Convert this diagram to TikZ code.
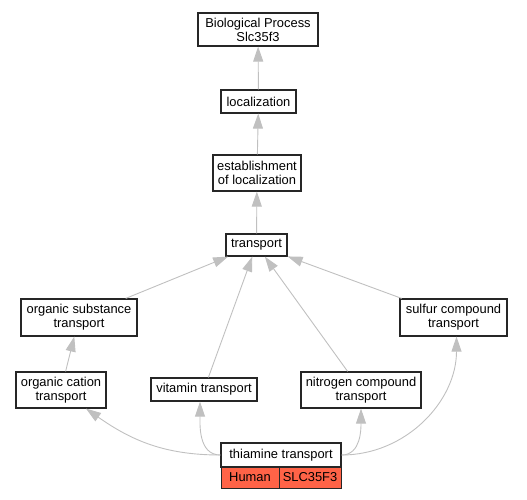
\documentclass[tikz,border=0pt]{standalone}
\usepackage{fontspec}
\setmainfont{Liberation Sans}
\usepackage{tikz}
\usetikzlibrary{arrows.meta}

\definecolor{edgegray}{RGB}{192,192,192}
\definecolor{hitred}{RGB}{255,99,71}

\tikzset{
  term/.style={shape=rectangle, draw=black!85, line width=1.2pt, fill=white,
    inner sep=0pt, align=center, font=\fontsize{12.9}{14}\selectfont},
  cell/.style={term, fill=hitred, line width=1pt},
  isa/.style={draw=edgegray, line width=0.9pt,
    -{Triangle[length=15pt,width=10pt,fill=edgegray]}}
}

\begin{document}
\begin{tikzpicture}[x=1pt,y=-1pt]
	\useasboundingbox (0,0) rectangle (527,499);
	
	\node[term,minimum width=120,minimum height=33] (bp)  at (258, 29.5)   {Biological Process\\Slc35f3};
	\node[term,minimum width=75,minimum height=23]  (loc) at (258.5, 101.5) {localization};
	\node[term,minimum width=88,minimum height=36]  (est) at (257, 173)    {establishment\\of localization};
	\node[term,minimum width=61,minimum height=22]  (tr)  at (256.5, 245)  {transport};
	\node[term,minimum width=116,minimum height=37] (os)  at (79, 317.5)   {organic substance\\transport};
	\node[term,minimum width=107,minimum height=37] (sul) at (453.5, 317.5) {sulfur compound\\transport};
	\node[term,minimum width=90,minimum height=36]  (oc)  at (61, 390)     {organic cation\\transport};
	\node[term,minimum width=106,minimum height=23] (vit) at (204, 389.5)  {vitamin transport};
	\node[term,minimum width=120,minimum height=36] (nit) at (361, 390)    {nitrogen compound\\transport};
	\node[term,minimum width=120,minimum height=24] (thi) at (281, 455)    {thiamine transport};
	\node[cell,minimum width=58,minimum height=21]  (hum) at (250, 477.5)  {Human};
	\node[cell,minimum width=62,minimum height=21]  (slc) at (310, 477.5)  {SLC35F3};
	
	\path (loc) edge[isa] (bp);
	\path (est) edge[isa] (loc);
	\path (tr)  edge[isa] (est);
	\path (os)  edge[isa] (tr);
	\path (vit) edge[isa] (tr);
	\path (nit) edge[isa] (tr);
	\path (sul) edge[isa] (tr);
	\path (oc)  edge[isa] (os);
	\path (thi.west) edge[isa,out=180,in=-35] ([xshift=25]oc.south);
	\path (thi.west) edge[isa,out=180,in=-90] ([xshift=-4]vit.south);
	\path (thi.east) edge[isa,out=0,in=-90]   (nit.south);
	\path (thi.east) edge[isa,out=0,in=-90]   ([xshift=3]sul.south);
	
\end{tikzpicture}
\end{document}
